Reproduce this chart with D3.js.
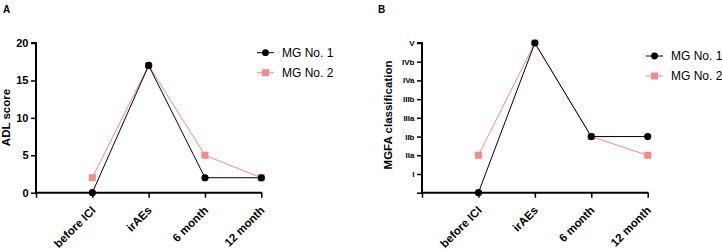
<!DOCTYPE html>
<html><head><meta charset="utf-8">
<script src="https://cdn.jsdelivr.net/npm/d3@7"></script>
<style>body{margin:0;background:#fff}svg{display:block}text{font-family:Arial,"Liberation Sans",sans-serif}</style>
</head><body>
<script>
const categories = ["before ICI", "irAEs", "6 month", "12 month"];
const seriesNames = ["MG No. 1", "MG No. 2"];
const adlMG1 = [0, 17, 2, 2];
const adlMG2 = [2, 17, 5, 2];
const adlTicks = [0, 5, 10, 15, 20];
const mgfaLabels = ["", "I", "IIa", "IIb", "IIIa", "IIIb", "IVa", "IVb", "V"];
const mgfaMG1 = [0, 8, 3, 3];
const mgfaMG2 = [2, 8, 3, 2];

const black = "#000", pink = "#f58a8a";
const svg = d3.select("body").append("svg").attr("width", 722).attr("height", 251);

function panel(o) {
  const g = svg.append("g");
  const x = d3.scaleLinear().domain([0, 4]).range([o.x0, o.x1]);
  const y = d3.scaleLinear().domain(o.ydom).range([192.7, 43]);
  const yAxis = d3.axisLeft(y).tickValues(o.yticks).tickSize(5).tickPadding(2.5).tickFormat(o.fmt);
  const ya = g.append("g").attr("transform", `translate(${o.x0},0)`).call(yAxis);
  ya.select(".domain").attr("stroke-width", 2).attr("d", `M-5,43H0V193.7`);
  ya.selectAll(".tick line").attr("stroke-width", 1.5);
  ya.selectAll("text").attr("font-size", o.yfs).attr("font-weight", "bold").attr("fill", "#000");
  const xAxis = d3.axisBottom(x).tickValues([0, 1, 2, 3, 4]).tickSize(5).tickFormat("");
  const xa = g.append("g").attr("transform", `translate(0,192.7)`).call(xAxis);
  xa.select(".domain").attr("stroke-width", 2).attr("d", `M${o.x0 - 1},0H${o.x1 + 0.75}`);
  xa.selectAll(".tick line").attr("stroke-width", 1.5);
  g.append("g").selectAll("text").data(categories).enter().append("text")
    .attr("transform", (d, i) => `translate(${x(i + 1) + 4},211) rotate(-45)`)
    .attr("text-anchor", "end").attr("font-size", 11.5).attr("font-weight", "bold").text(d => d);
  g.append("text").attr("transform", `translate(${o.tx},${o.ty}) rotate(-90)`).attr("text-anchor", "middle")
    .attr("font-size", 11.5).attr("font-weight", "bold").text(o.title);
  g.append("text").attr("x", o.lx).attr("y", 12.5).attr("font-size", 10).attr("font-weight", "bold").text(o.letter);
  const line = d3.line().x((d, i) => x(i + 1)).y(d => y(d));
  g.append("path").datum(o.s2).attr("d", line).attr("fill", "none").attr("stroke", pink).attr("stroke-width", 1);
  g.append("path").datum(o.s1).attr("d", line).attr("fill", "none").attr("stroke", black).attr("stroke-width", 1);
  g.selectAll(".sq").data(o.s2).enter().append("rect").attr("x", (d, i) => x(i + 1) - 3.5).attr("y", d => y(d) - 3.5)
    .attr("width", 7).attr("height", 7).attr("fill", pink);
  g.selectAll(".ci").data(o.s1).enter().append("circle").attr("cx", (d, i) => x(i + 1)).attr("cy", d => y(d)).attr("r", 3.6).attr("fill", black);
  const lg = g.append("g").attr("transform", `translate(${o.legx},${o.legy})`);
  [[black, "c"], [pink, "s"]].forEach((c, i) => {
    const yy = i * 20;
    lg.append("line").attr("x1", 0).attr("x2", 17).attr("y1", yy).attr("y2", yy).attr("stroke", c[0]).attr("stroke-width", 1);
    if (c[1] === "c") lg.append("circle").attr("cx", 8.5).attr("cy", yy).attr("r", 3.4).attr("fill", c[0]);
    else lg.append("rect").attr("x", 5).attr("y", yy - 3.5).attr("width", 7).attr("height", 7).attr("fill", c[0]);
    lg.append("text").attr("x", 25).attr("y", yy).attr("dy", "0.35em").attr("font-size", 12).text(seriesNames[i]);
  });
}

panel({x0: 36, x1: 261.3, ydom: [0, 20], yticks: adlTicks, fmt: d3.format("d"), yfs: 11,
  s1: adlMG1, s2: adlMG2, title: "ADL score", tx: 10, ty: 117.5, letter: "A", lx: 3, legx: 257, legy: 52.7});
panel({x0: 422, x1: 647.7, ydom: [0, 8], yticks: d3.range(0, 9), fmt: d => mgfaLabels[d], yfs: 8,
  s1: mgfaMG1, s2: mgfaMG2, title: "MGFA classification", tx: 392, ty: 115, letter: "B", lx: 378, legx: 646, legy: 56});
</script>
</body></html>
